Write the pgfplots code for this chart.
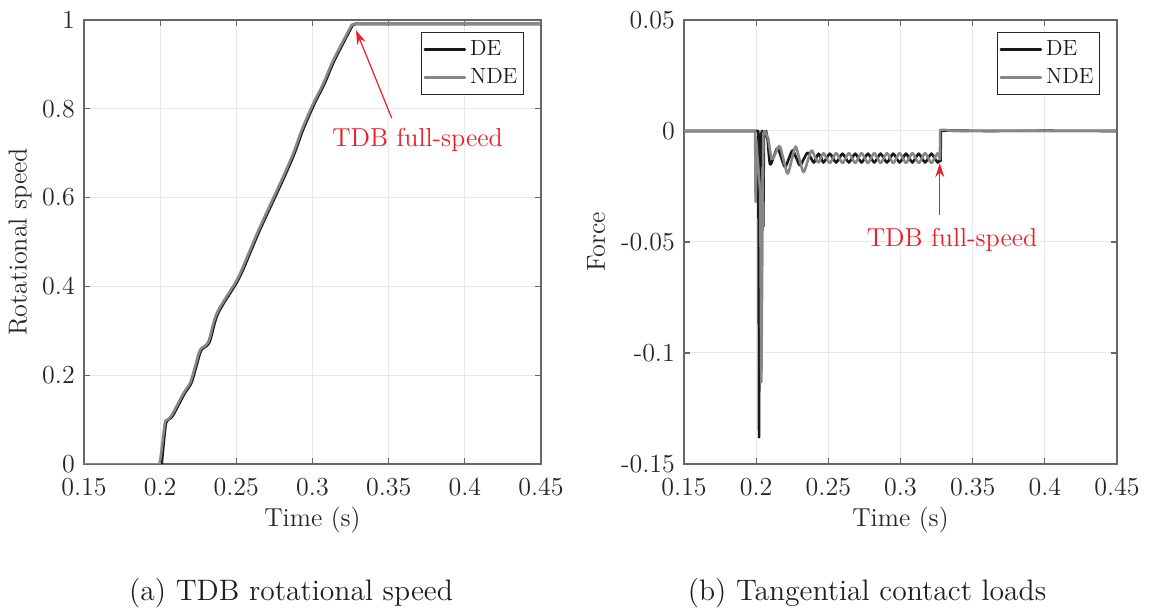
\documentclass[border=0pt]{standalone}
\usepackage{fontspec}
\usepackage{pgfplots}
\pgfplotsset{compat=1.18}
\usetikzlibrary{arrows.meta}
\definecolor{tdbred}{RGB}{235,30,40}
\definecolor{deblack}{RGB}{25,25,25}
\definecolor{ndegray}{RGB}{135,135,135}
\pgfplotsset{
  myax/.style={
    scale only axis,
    height=222pt,
    xmin=0.15, xmax=0.45,
    xtick={0.15,0.2,0.25,0.3,0.35,0.4,0.45},
    xticklabels={0.15,0.2,0.25,0.3,0.35,0.4,0.45},
    grid=major,
    major grid style={color=black!9, line width=0.5pt},
    axis line style={black!60, line width=0.6pt},
    tick style={black!60, line width=0.6pt},
    tick align=inside,
    major tick length=3pt,
    ticklabel style={font=\fontsize{13}{15}\selectfont, text=black!85, inner sep=0.4pt},
    xticklabel style={yshift=-6.6pt},
    yticklabel style={xshift=-4pt},
    label style={font=\fontsize{13}{15}\selectfont, text=black!85},
    xlabel={Time (s)},
    xlabel style={at={(axis description cs:0.5,-0.126)}, anchor=center},
    legend style={font=\fontsize{11}{13}\selectfont, at={(1,1)}, anchor=north east,
      xshift=-8.5pt, yshift=-6pt, draw=black!85, line width=0.6pt, inner xsep=1pt, inner ysep=2pt,
      row sep=1pt, cells={anchor=west}, text=black!90},
    legend cell align=left,
    legend image code/.code={\draw[#1, line width=1.3pt] (0pt,0pt) -- (20pt,0pt);},
    every axis plot/.append style={line join=round, line cap=round},
  }
}
\begin{document}
\begin{tikzpicture}
\useasboundingbox (0,0) rectangle (574.5pt,304.5pt);
% ---------------- (a) ----------------
\begin{axis}[myax,
  at={(42pt,72.5pt)}, anchor=south west,
  width=228.5pt,
  ymin=0, ymax=1,
  ytick={0,0.2,0.4,0.6,0.8,1},
  yticklabels={0,0.2,0.4,0.6,0.8,1},
  ylabel={Rotational speed},
  ylabel style={at={(axis description cs:-0.14,0.5)}, anchor=center},
]
\addplot[deblack, line width=1.3pt] table {
x y
0.150 0
0.2010 0
};
\addlegendentry{DE}
\addplot[deblack, line width=1.3pt, smooth, forget plot] table {
x y
0.2010 0
0.2035 0.085
0.2050 0.099
0.2083 0.109
0.2159 0.158
0.2203 0.181
0.2236 0.218
0.2269 0.256
0.2323 0.274
0.2378 0.338
0.2498 0.406
0.2542 0.436
0.2597 0.481
0.2662 0.533
0.2805 0.639
0.2881 0.699
0.2936 0.751
0.3012 0.811
0.3078 0.856
0.3144 0.909
0.3264 0.989
};
\addplot[deblack, line width=1.3pt, forget plot] table {
x y
0.3264 0.989
0.3285 0.991
0.450 0.991
};
\addplot[ndegray, line width=1.3pt] table {
x y
0.150 0
0.1995 0
};
\addlegendentry{NDE}
\addplot[ndegray, line width=1.3pt, smooth, forget plot] table {
x y
0.1995 0
0.2005 0.020
0.2030 0.090
0.2043 0.099
0.2076 0.110
0.2152 0.159
0.2196 0.182
0.2229 0.219
0.2262 0.257
0.2316 0.275
0.2371 0.339
0.2491 0.407
0.2535 0.437
0.2590 0.482
0.2655 0.534
0.2798 0.640
0.2874 0.700
0.2929 0.752
0.3005 0.812
0.3071 0.857
0.3137 0.910
0.3257 0.989
};
\addplot[ndegray, line width=1.3pt, forget plot] table {
x y
0.3257 0.989
0.3280 0.992
0.450 0.992
};
\draw[tdbred, line width=0.6pt, -{Stealth[length=7pt,width=4.5pt]}] (axis cs:0.352,0.779) -- (axis cs:0.3286,0.977);
\node[text=tdbred, font=\fontsize{13}{15}\selectfont] at (axis cs:0.369,0.730) {TDB full-speed};
\end{axis}
% ---------------- (b) ----------------
\begin{axis}[myax,
  at={(342pt,72.5pt)}, anchor=south west,
  width=216.5pt,
  ymin=-0.15, ymax=0.05,
  ytick={-0.15,-0.1,-0.05,0,0.05},
  yticklabels={-0.15,-0.1,-0.05,0,0.05},
  ylabel={Force},
  ylabel style={at={(axis description cs:-0.203,0.5)}, anchor=center},
]
% DE
\addplot[deblack, line width=1.3pt] table {
x y
0.150 0
0.2015 0
0.2020 -0.138
0.2026 -0.004
0.2040 0.000
0.2044 0.000
0.2049 -0.043
0.2054 -0.002
0.2068 0.000
0.2080 -0.004
};
\addlegendentry{DE}
\addplot[deblack, line width=1.3pt, smooth, forget plot] table {
x y
0.2080 -0.0040
0.2096 -0.0150
0.2122 -0.0114
0.2148 -0.0078
0.2174 -0.0120
0.2200 -0.0162
0.2226 -0.0125
0.2252 -0.0088
0.2278 -0.0122
0.2304 -0.0155
0.2330 -0.0126
0.2356 -0.0098
0.2378 -0.0120
0.2400 -0.0142
0.2416 -0.0122
0.2433 -0.0102
0.2450 -0.0122
0.2466 -0.0142
0.2488 -0.0122
0.2510 -0.0102
0.2532 -0.0122
0.2554 -0.0142
0.2576 -0.0122
0.2598 -0.0102
0.2620 -0.0122
0.2642 -0.0142
0.2664 -0.0122
0.2686 -0.0102
0.2708 -0.0122
0.2730 -0.0142
0.2752 -0.0122
0.2774 -0.0102
0.2796 -0.0122
0.2818 -0.0142
0.2840 -0.0122
0.2862 -0.0102
0.2884 -0.0122
0.2906 -0.0142
0.2928 -0.0122
0.2950 -0.0102
0.2972 -0.0122
0.2994 -0.0142
0.3016 -0.0122
0.3038 -0.0102
0.3060 -0.0122
0.3082 -0.0142
0.3104 -0.0122
0.3126 -0.0102
0.3148 -0.0122
0.3170 -0.0142
0.3192 -0.0122
0.3214 -0.0102
0.3236 -0.0122
0.3258 -0.0142
0.3270 -0.0132
};
\addplot[deblack, line width=1.3pt, forget plot] table {
x y
0.3270 -0.0132
0.3278 -0.0135
0.3279 0.0000
0.3320 0.0002
0.3600 0.0000
0.4000 0.0001
0.450 0.0000
};
% NDE
\addplot[ndegray, line width=1.3pt] table {
x y
0.150 0
0.1993 0
0.1996 -0.032
0.2000 -0.004
0.2028 -0.028
0.2036 -0.113
0.2044 -0.040
0.2050 -0.001
0.2060 0.000
0.2084 -0.0035
};
\addlegendentry{NDE}
\addplot[ndegray, line width=1.3pt, smooth, forget plot] table {
x y
0.2084 -0.0035
0.2108 -0.0125
0.2136 -0.0097
0.2163 -0.0068
0.2190 -0.0130
0.2218 -0.0192
0.2246 -0.0131
0.2273 -0.0070
0.2300 -0.0128
0.2328 -0.0185
0.2356 -0.0137
0.2383 -0.0088
0.2406 -0.0115
0.2430 -0.0142
0.2448 -0.0121
0.2466 -0.0100
0.2488 -0.0122
0.2510 -0.0144
0.2532 -0.0122
0.2554 -0.0100
0.2576 -0.0122
0.2598 -0.0144
0.2620 -0.0122
0.2642 -0.0100
0.2664 -0.0122
0.2686 -0.0144
0.2708 -0.0122
0.2730 -0.0100
0.2752 -0.0122
0.2774 -0.0144
0.2796 -0.0122
0.2818 -0.0100
0.2840 -0.0122
0.2862 -0.0144
0.2884 -0.0122
0.2906 -0.0100
0.2928 -0.0122
0.2950 -0.0144
0.2972 -0.0122
0.2994 -0.0100
0.3016 -0.0122
0.3038 -0.0144
0.3060 -0.0122
0.3082 -0.0100
0.3104 -0.0122
0.3126 -0.0144
0.3148 -0.0122
0.3170 -0.0100
0.3192 -0.0122
0.3214 -0.0144
0.3236 -0.0122
0.3258 -0.0100
0.3268 -0.0118
};
\addplot[ndegray, line width=1.3pt, forget plot] table {
x y
0.3268 -0.0118
0.3273 -0.0128
0.3275 0.0005
0.3310 0.0005
0.3360 0.0000
0.3900 0.0001
0.450 0.0000
};
\draw[tdbred, line width=0.7pt, -{Stealth[length=7pt,width=4.5pt]}] (axis cs:0.3272,-0.038) -- (axis cs:0.3272,-0.0145);
\node[text=tdbred, font=\fontsize{13}{15}\selectfont] at (axis cs:0.3357,-0.049) {TDB full-speed};
\end{axis}
% captions
\node[font=\fontsize{14.8}{17}\selectfont, text=black!88] at (145.5pt,8pt) {(a) TDB rotational speed};
\node[font=\fontsize{14.8}{17}\selectfont, text=black!88] at (433.5pt,8pt) {(b) Tangential contact loads};
\end{tikzpicture}
\end{document}
